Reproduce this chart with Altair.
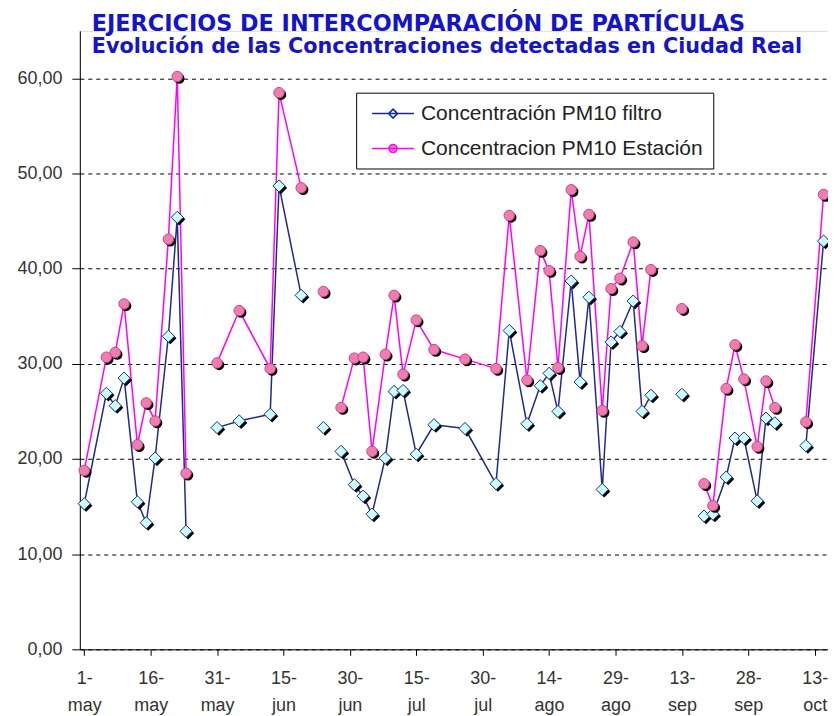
import altair as alt
import pandas as pd

# ---- data (day 0 = 1 May) ----
days = [0, 5, 7, 9, 12, 14, 16, 19, 21, 23,
        30, 35, 42, 44, 49,
        54,
        58, 61, 63, 65, 68, 70, 72, 75, 79, 86, 93, 96, 100, 103, 105, 107,
        110, 112, 114, 117, 119, 121, 124, 126, 128,
        135,
        140, 142, 145, 147, 149, 152, 154, 156,
        163, 167]

filtro = [15.3, 26.9, 25.6, 28.5, 15.5, 13.3, 20.1, 32.9, 45.4, 12.4,
          23.3, 24.0, 24.7, 48.7, 37.2,
          23.3,
          20.8, 17.3, 16.1, 14.2, 20.1, 27.1, 27.2, 20.5, 23.6, 23.2, 17.4, 33.5,
          23.7, 27.7, 29.0, 25.0, 38.7, 28.1, 37.0, 16.8, 32.3, 33.4, 36.6, 25.0, 26.7,
          26.8,
          14.0, 14.2, 18.1, 22.2, 22.2, 15.6, 24.3, 23.8,
          21.4, 42.9]

estacion = [18.8, 30.7, 31.2, 36.3, 21.5, 25.9, 24.0, 43.1, 60.2, 18.5,
            30.1, 35.6, 29.5, 58.5, 48.5,
            37.6,
            25.4, 30.6, 30.7, 20.8, 31.0, 37.2, 28.9, 34.6, 31.5, 30.5, 29.5, 45.6,
            28.3, 41.9, 39.8, 29.6, 48.3, 41.3, 45.7, 25.1, 37.9, 39.0, 42.8, 31.9, 39.9,
            35.8,
            17.4, 15.1, 27.4, 32.0, 28.4, 21.3, 28.2, 25.4,
            23.9, 47.8]

# days where the lines start again after a gap (blank cells)
breaks = [30, 54, 58, 135, 140, 163]

series_names = ["Concentración PM10 filtro", "Concentracion PM10 Estación"]

tick_days = [0, 15, 30, 45, 60, 75, 90, 105, 120, 135, 150, 165]
tick_labels = [["1-", "may"], ["16-", "may"], ["31-", "may"], ["15-", "jun"],
               ["30-", "jun"], ["15-", "jul"], ["30-", "jul"], ["14-", "ago"],
               ["29-", "ago"], ["13-", "sep"], ["28-", "sep"], ["13-", "oct"]]

title_text = "EJERCICIOS DE INTERCOMPARACIÓN DE PARTÍCULAS"
subtitle_text = "Evolución de las Concentraciones detectadas en Ciudad Real"

# ---- build table ----
rows = []
for name, vals in zip(series_names, [filtro, estacion]):
    for d, v in zip(days, vals):
        seg = sum(1 for b in breaks if d >= b)
        rows.append({"serie": name, "dia": d, "valor": v, "seg": seg})
df = pd.DataFrame(rows)

NAVY = "#1F2A8C"
MAGENTA = "#FF00FF"
CYAN = "#CCFFFF"
PINK = "#EC7FB0"
TITLE_BLUE = "#1414C8"
FONT = "Liberation Sans"

label_map = "{" + ",".join(
    f"'{d}':['{a}','{b}']" for d, (a, b) in zip(tick_days, tick_labels)) + "}"

x_enc = alt.X("dia:Q", scale=alt.Scale(domain=[-1, 168], nice=False, zero=False),
              axis=alt.Axis(values=tick_days, title=None, grid=False,
                            labelExpr=f"{label_map}[''+datum.value]",
                            domainColor="black", tickColor="black", tickSize=6,
                            labelFont=FONT, labelFontSize=18, labelColor="#333333",
                            labelLineHeight=27, labelPadding=14, labelFlush=False,
                            labelOverlap=False))
y_enc = alt.Y("valor:Q", scale=alt.Scale(domain=[0, 65], nice=False),
              axis=alt.Axis(values=[0, 10, 20, 30, 40, 50, 60], title=None,
                            grid=True, gridColor="black", gridDash=[4, 4],
                            gridWidth=1, domainColor="black", tickColor="black",
                            tickSize=8, labelPadding=10,
                            labelExpr="replace(format(datum.value, '.2f'), '.', ',')",
                            labelFont=FONT, labelFontSize=18, labelColor="#333333"))

base = alt.Chart(df)
blue = base.transform_filter(alt.datum.serie == series_names[0])
pink = base.transform_filter(alt.datum.serie == series_names[1])

blue_line = blue.mark_line(strokeWidth=1.5, color=NAVY).encode(x=x_enc, y=y_enc, detail="seg:N")
pink_line = pink.mark_line(strokeWidth=1.5, color=MAGENTA).encode(x=x_enc, y=y_enc, detail="seg:N")

blue_shadow = blue.mark_point(shape="diamond", size=150, filled=True, color="black",
                              opacity=1, xOffset=2, yOffset=2).encode(x=x_enc, y=y_enc)
blue_pts = blue.mark_point(shape="diamond", size=150, filled=True, fill=CYAN,
                           stroke=NAVY, strokeWidth=1, opacity=1).encode(x=x_enc, y=y_enc)
pink_shadow = pink.mark_point(shape="circle", size=110, filled=True, color="black",
                              opacity=1, xOffset=2, yOffset=2).encode(x=x_enc, y=y_enc)
pink_pts = pink.mark_point(shape="circle", size=110, filled=True, fill=PINK,
                           stroke="#D0408A", strokeWidth=1, opacity=1).encode(x=x_enc, y=y_enc)

diamond_path = "M-2.1,0L2.1,0M0,-0.45L0.45,0L0,0.45L-0.45,0Z"
circle_path = ("M-2.1,0L2.1,0M-0.4,0A0.4,0.4 0 1,0 0.4,0A0.4,0.4 0 1,0 -0.4,0Z")

leg = alt.Legend(title=None, orient="none", legendX=277, legendY=62,
                 fillColor="white", strokeColor="black", padding=10,
                 symbolSize=400, symbolStrokeWidth=1.5, symbolOffset=16,
                 symbolOpacity=1,
                 labelFont=FONT, labelFontSize=21, labelColor="#222222",
                 labelLimit=0, labelOffset=17, rowPadding=14)

legend_layer = base.mark_point(size=400, opacity=0, filled=False).encode(
    x=x_enc, y=y_enc,
    stroke=alt.Stroke("serie:N", scale=alt.Scale(domain=series_names, range=[NAVY, MAGENTA]),
                      legend=leg),
    fill=alt.Fill("serie:N", scale=alt.Scale(domain=series_names, range=[CYAN, PINK]),
                  legend=leg),
    shape=alt.Shape("serie:N", scale=alt.Scale(domain=series_names,
                                               range=[diamond_path, circle_path]),
                    legend=leg),
)

chart = alt.layer(blue_line, pink_line, blue_shadow, blue_pts, pink_shadow, pink_pts,
                  legend_layer).properties(
    width=750, height=620,
    title=alt.TitleParams(text=title_text, subtitle=subtitle_text,
                          anchor="start", frame="group", orient="top",
                          dx=12, offset=-26, font="DejaVu Sans", fontSize=22.4,
                          fontWeight="bold", color=TITLE_BLUE,
                          subtitleFont="DejaVu Sans", subtitleFontSize=20.8,
                          subtitleFontWeight="bold", subtitleColor=TITLE_BLUE,
                          subtitlePadding=2),
    padding={"left": 72, "top": 22, "right": 0, "bottom": 80},
    autosize=alt.AutoSizeParams(type="none"),
).configure_view(stroke=None).configure(background="white")

chart.save("out.html", embed_options={"renderer": "svg", "actions": False})
